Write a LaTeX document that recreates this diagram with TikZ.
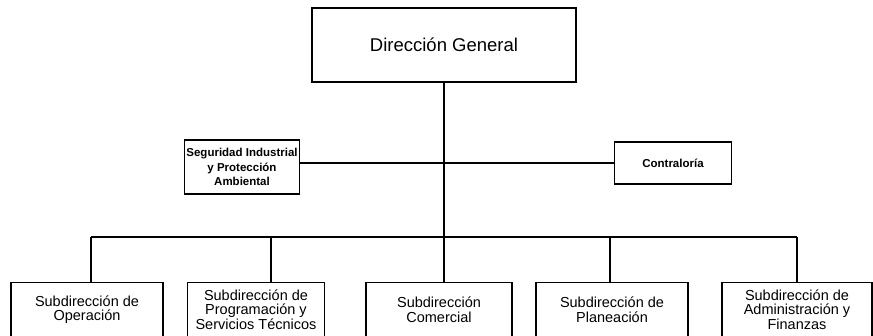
\documentclass[tikz,border=0pt]{standalone}
\usepackage{fontspec}
\setmainfont{Liberation Sans}
\begin{document}
\begin{tikzpicture}[x=1pt,y=-1pt,line width=1.2pt,
  box/.style={draw,rectangle,align=center,inner sep=0pt},
  staff/.style={box,font=\fontsize{11.5}{14.5}\selectfont\bfseries},
  sub/.style={box,anchor=north,minimum height=54pt,font=\fontsize{14.5}{14.8}\selectfont}]
  \useasboundingbox (0,0) rectangle (873,336);
  % top
  \node[box,minimum width=264pt,minimum height=74pt,font=\fontsize{18.5}{20}\selectfont] (dg) at (444,45) {Dirección General};
  \node[staff,minimum width=115pt,minimum height=54pt] (seg) at (242,167) {Seguridad Industrial\\y Protección\\Ambiental};
  \node[staff,minimum width=117pt,minimum height=42pt] (con) at (673,163) {Contraloría};
  % subdirecciones
  \node[sub,minimum width=152pt] (op) at (87,282) {Subdirección de\\Operación};
  \node[sub,minimum width=137pt] (prog) at (256,282) {Subdirección de\\Programación y\\Servicios Técnicos};
  \node[sub,minimum width=146pt] (com) at (439,282) {Subdirección\\Comercial};
  \node[sub,minimum width=152pt] (plan) at (612,282) {Subdirección de\\Planeación};
  \node[sub,minimum width=150pt] (adm) at (797,282) {Subdirección de\\Administración y\\Finanzas};
  % lines
  \coordinate (mid) at (dg.south |- 0,163);
  \coordinate (bus) at (dg.south |- 0,237);
  \draw (dg.south) -- (bus);
  \draw (seg.east |- mid) -- (con.west |- mid);
  \draw (91,237) -- (797,237);
  \foreach \n/\x in {op/91,prog/271,com/444,plan/610,adm/797}
    \draw (\x,237) -- (\n.north -| \x,0);
\end{tikzpicture}
\end{document}
